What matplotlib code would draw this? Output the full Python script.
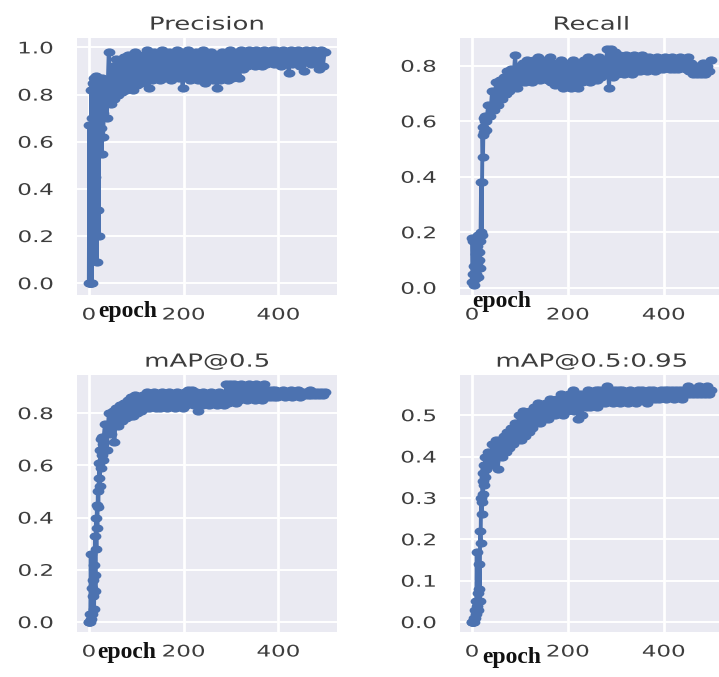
import matplotlib
matplotlib.use("Agg")
import matplotlib.pyplot as plt
from matplotlib.path import Path
from matplotlib.patheffects import AbstractPathEffect
from matplotlib.transforms import Affine2D

# ---- training metrics per epoch ----
epochs = list(range(0, 30)) + list(range(30, 500, 4))

precision = [
    0.00, 0.67, 0.00, 0.00, 0.00, 0.82, 0.00, 0.70, 0.85, 0.10,
    0.84, 0.87, 0.45, 0.80, 0.86, 0.58, 0.88, 0.09, 0.82, 0.86,
    0.31, 0.20, 0.84, 0.78, 0.86, 0.66, 0.83, 0.55, 0.87, 0.72,
    0.62, 0.86, 0.70, 0.98, 0.76, 0.92, 0.78, 0.95, 0.80, 0.93,
    0.81, 0.96, 0.82, 0.97, 0.83, 0.95, 0.82, 0.98, 0.84, 0.96,
    0.85, 0.97, 0.86, 0.99, 0.83, 0.96, 0.86, 0.98, 0.87, 0.97,
    0.86, 0.99, 0.87, 0.96, 0.88, 0.98, 0.86, 0.97, 0.88, 0.99,
    0.87, 0.98, 0.83, 0.97, 0.88, 0.99, 0.86, 0.96, 0.87, 0.98,
    0.86, 0.97, 0.88, 0.99, 0.85, 0.96, 0.87, 0.98, 0.86, 0.97,
    0.83, 0.96, 0.86, 0.98, 0.87, 0.97, 0.86, 0.99, 0.87, 0.97,
    0.88, 0.98, 0.87, 0.99, 0.91, 0.98, 0.92, 0.99, 0.93, 0.98,
    0.92, 0.99, 0.93, 0.98, 0.92, 0.99, 0.93, 0.98, 0.94, 0.99,
    0.93, 0.99, 0.94, 0.98, 0.92, 0.99, 0.93, 0.98, 0.89, 0.99,
    0.93, 0.98, 0.94, 0.99, 0.92, 0.98, 0.90, 0.99, 0.94, 0.98,
    0.93, 0.99, 0.95, 0.98, 0.91, 0.99, 0.92, 0.98,
]

recall = [
    0.18, 0.02, 0.05, 0.17, 0.01, 0.08, 0.18, 0.03, 0.12, 0.05,
    0.15, 0.09, 0.19, 0.04, 0.13, 0.10, 0.17, 0.07, 0.20, 0.38,
    0.19, 0.38, 0.55, 0.47, 0.58, 0.61, 0.56, 0.60, 0.62, 0.57,
    0.60, 0.66, 0.62, 0.71, 0.64, 0.74, 0.66, 0.75, 0.68, 0.76,
    0.70, 0.78, 0.71, 0.79, 0.73, 0.84, 0.72, 0.80, 0.74, 0.81,
    0.74, 0.82, 0.75, 0.81, 0.74, 0.82, 0.76, 0.83, 0.75, 0.81,
    0.76, 0.82, 0.75, 0.83, 0.74, 0.81, 0.73, 0.80, 0.74, 0.82,
    0.72, 0.81, 0.73, 0.80, 0.72, 0.82, 0.73, 0.81, 0.72, 0.80,
    0.74, 0.82, 0.75, 0.83, 0.74, 0.81, 0.76, 0.82, 0.75, 0.83,
    0.76, 0.82, 0.77, 0.86, 0.72, 0.86, 0.76, 0.85, 0.77, 0.84,
    0.78, 0.83, 0.77, 0.84, 0.78, 0.82, 0.77, 0.84, 0.78, 0.83,
    0.78, 0.84, 0.79, 0.82, 0.78, 0.83, 0.79, 0.82, 0.78, 0.83,
    0.79, 0.82, 0.79, 0.83, 0.80, 0.82, 0.79, 0.83, 0.79, 0.82,
    0.79, 0.83, 0.80, 0.82, 0.79, 0.83, 0.78, 0.81, 0.77, 0.80,
    0.77, 0.80, 0.77, 0.81, 0.77, 0.80, 0.78, 0.82,
]

map50 = [
    0.00, 0.00, 0.00, 0.03, 0.26, 0.01, 0.13, 0.03, 0.16, 0.10,
    0.22, 0.05, 0.18, 0.33, 0.12, 0.40, 0.28, 0.45, 0.36, 0.50,
    0.44, 0.55, 0.61, 0.52, 0.66, 0.70, 0.59, 0.64, 0.71, 0.62,
    0.68, 0.76, 0.66, 0.80, 0.72, 0.81, 0.69, 0.82, 0.75, 0.83,
    0.77, 0.84, 0.78, 0.85, 0.79, 0.86, 0.79, 0.87, 0.80, 0.86,
    0.81, 0.87, 0.82, 0.88, 0.82, 0.87, 0.83, 0.88, 0.82, 0.87,
    0.82, 0.88, 0.83, 0.87, 0.82, 0.88, 0.83, 0.87, 0.82, 0.88,
    0.83, 0.87, 0.82, 0.88, 0.83, 0.89, 0.84, 0.89, 0.83, 0.88,
    0.81, 0.87, 0.83, 0.88, 0.84, 0.87, 0.83, 0.88, 0.84, 0.87,
    0.83, 0.88, 0.84, 0.87, 0.83, 0.91, 0.84, 0.91, 0.85, 0.91,
    0.84, 0.90, 0.85, 0.91, 0.86, 0.90, 0.85, 0.91, 0.86, 0.90,
    0.85, 0.91, 0.86, 0.90, 0.85, 0.91, 0.86, 0.89, 0.86, 0.89,
    0.86, 0.89, 0.86, 0.88, 0.87, 0.89, 0.86, 0.88, 0.87, 0.89,
    0.86, 0.88, 0.87, 0.89, 0.86, 0.88, 0.87, 0.88, 0.87, 0.89,
    0.87, 0.88, 0.87, 0.88, 0.87, 0.88, 0.87, 0.88,
]

map50_95 = [
    0.00, 0.00, 0.00, 0.00, 0.01, 0.00, 0.03, 0.01, 0.05, 0.02,
    0.17, 0.04, 0.07, 0.03, 0.08, 0.14, 0.05, 0.22, 0.19, 0.30,
    0.26, 0.29, 0.34, 0.31, 0.36, 0.33, 0.38, 0.35, 0.40, 0.37,
    0.37, 0.41, 0.38, 0.43, 0.39, 0.44, 0.37, 0.44, 0.40, 0.45,
    0.41, 0.46, 0.42, 0.47, 0.43, 0.48, 0.44, 0.50, 0.44, 0.51,
    0.45, 0.50, 0.46, 0.51, 0.47, 0.52, 0.48, 0.53, 0.48, 0.52,
    0.49, 0.53, 0.49, 0.54, 0.50, 0.53, 0.50, 0.54, 0.51, 0.55,
    0.50, 0.54, 0.51, 0.55, 0.52, 0.56, 0.51, 0.55, 0.49, 0.55,
    0.50, 0.55, 0.52, 0.56, 0.52, 0.55, 0.53, 0.56, 0.52, 0.56,
    0.53, 0.56, 0.53, 0.57, 0.54, 0.56, 0.53, 0.56, 0.54, 0.56,
    0.53, 0.56, 0.54, 0.55, 0.53, 0.56, 0.54, 0.55, 0.53, 0.56,
    0.54, 0.56, 0.54, 0.55, 0.53, 0.56, 0.54, 0.56, 0.54, 0.55,
    0.54, 0.56, 0.55, 0.56, 0.54, 0.56, 0.55, 0.56, 0.54, 0.56,
    0.55, 0.56, 0.54, 0.56, 0.55, 0.57, 0.55, 0.56, 0.55, 0.56,
    0.55, 0.57, 0.55, 0.56, 0.55, 0.57, 0.55, 0.56,
]

titles = ["Precision", "Recall", "mAP@0.5", "mAP@0.5:0.95"]
series = [precision, recall, map50, map50_95]
xticks = [0, 200, 400]
yticks = [
    [0.0, 0.2, 0.4, 0.6, 0.8, 1.0],
    [0.0, 0.2, 0.4, 0.6, 0.8],
    [0.0, 0.2, 0.4, 0.6, 0.8],
    [0.0, 0.1, 0.2, 0.3, 0.4, 0.5],
]
ylims = [(-0.05, 1.04), (-0.026, 0.90), (-0.038, 0.946), (-0.024, 0.597)]
xlabel = "epoch"

for s in series:
    assert len(s) == len(epochs), (len(s), len(epochs))

# ---- style ----
W, H = 719, 677
SX = 1.44            # horizontal widening of the sans-serif text
COLOR = "#4C72B0"
BG = "#EAEAF2"
TXT = "#3d3d3d"


class Widen(AbstractPathEffect):
    """Draw a text path stretched horizontally about a chosen anchor."""

    def __init__(self, sx, anchor="center"):
        super().__init__()
        self.sx = sx
        self.anchor = anchor

    def draw_path(self, renderer, gc, tpath, affine, rgbFace=None):
        ext = affine.transform_path(tpath).get_extents()
        if self.anchor == "right":
            x0 = ext.x1
        elif self.anchor == "left":
            x0 = ext.x0
        else:
            x0 = 0.5 * (ext.x0 + ext.x1)
        stretch = Affine2D().translate(-x0, 0).scale(self.sx, 1).translate(x0, 0)
        renderer.draw_path(gc, tpath, affine + stretch, rgbFace)


# wide elliptical dot marker
ell = Path.unit_circle()
ell_marker = Path(ell.vertices * [SX, 1.0], ell.codes)

fig = plt.figure(figsize=(W / 100, H / 100), dpi=100)
fig.patch.set_facecolor("white")

# axes boxes in pixels: left, top, right, bottom
boxes = [
    (77, 38, 337, 295),
    (460, 38, 723, 295),
    (77, 375, 337, 632),
    (460, 375, 723, 632),
]

for i, (l, t, r, b) in enumerate(boxes):
    ax = fig.add_axes([l / W, 1 - b / H, (r - l) / W, (b - t) / H])
    ax.set_facecolor(BG)
    for sp in ax.spines.values():
        sp.set_visible(False)
    ax.xaxis.grid(True, color="white", linewidth=2.0)
    ax.yaxis.grid(True, color="white", linewidth=1.4)
    ax.set_axisbelow(True)
    ax.plot(epochs, series[i], color=COLOR, linewidth=2.8,
            solid_joinstyle="round",
            marker=ell_marker, markersize=8.5, markeredgewidth=0)
    ax.set_xlim(-25, 524)
    ax.set_ylim(*ylims[i])
    ax.set_xticks(xticks)
    ax.set_yticks(yticks[i])
    ax.set_yticklabels([f"{v:.1f}" for v in yticks[i]])
    ax.tick_params(axis="both", length=0, labelsize=11.5, labelcolor=TXT)
    ax.tick_params(axis="y", pad=17)
    ax.tick_params(axis="x", pad=9)
    for lab in ax.get_xticklabels():
        lab.set_path_effects([Widen(SX, "center")])
    for lab in ax.get_yticklabels():
        lab.set_path_effects([Widen(SX, "right")])
    ax.set_title(titles[i], fontsize=13, color=TXT, pad=6,
                 path_effects=[Widen(SX, "center")])

# epoch captions (left x, baseline y in pixels)
epoch_pos = [(98, 317), (472, 307), (97, 658), (482, 663)]
for x, y in epoch_pos:
    fig.text(x / W, 1 - y / H, xlabel, ha="left", va="baseline",
             fontsize=17, fontweight="bold", color="#111111",
             family=["Liberation Serif", "DejaVu Serif"])

fig.savefig("out.png", dpi=100, facecolor="white")
